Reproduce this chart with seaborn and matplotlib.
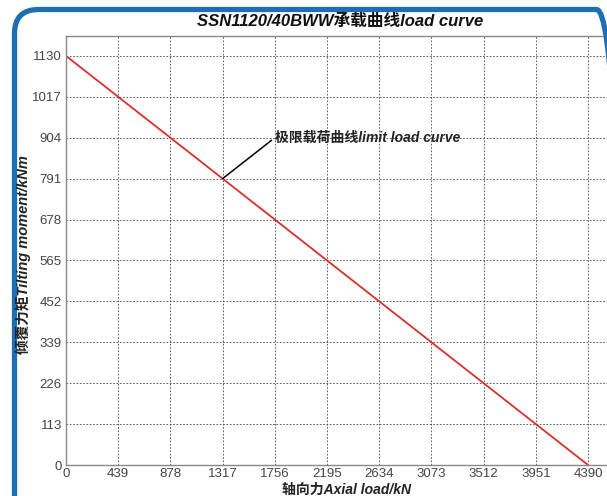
import matplotlib
matplotlib.use("Agg")
import matplotlib.pyplot as plt
from matplotlib.patches import FancyBboxPatch
from matplotlib.transforms import IdentityTransform
import seaborn as sns
import pandas as pd

# 数据
axial_load = [0, 4390]
tilting_moment = [1130, 0]
x_ticks = [0, 439, 878, 1317, 1756, 2195, 2634, 3073, 3512, 3951, 4390]
y_ticks = [0, 113, 226, 339, 452, 565, 678, 791, 904, 1017, 1130]
limit_point = (1317, 791)
label_point = (1756, 904)

sns.set_theme(style="white")
plt.rcParams['font.family'] = ['Liberation Sans', 'Noto Sans CJK SC', 'DejaVu Sans']

df = pd.DataFrame({"x": axial_load, "y": tilting_moment})

W, H = 607, 496
fig = plt.figure(figsize=(W / 100, H / 100), dpi=100)
fig.patch.set_facecolor("white")

# blue rounded frame, in pixels (right side runs off the picture)
frame = FancyBboxPatch((14.5, -60), 606, H - 9.5 + 60,
                       boxstyle="round,pad=0,rounding_size=24",
                       transform=IdentityTransform(), facecolor="none",
                       edgecolor="#1f6db3", linewidth=3.8, clip_on=False)
fig.patches.append(frame)

# axes run past the right edge of the picture, like the cropped original
ax = fig.add_axes([66 / W, 31 / H, 554 / W, 429 / H])
sns.lineplot(data=df, x="x", y="y", ax=ax, color="#d8302c", linewidth=1.3)

ax.set_xlim(0, 4659)
ax.set_ylim(0, 1185)
ax.set_xticks(x_ticks)
ax.set_yticks(y_ticks)
ax.tick_params(axis="both", direction="in", length=3, labelsize=9.5,
               colors="#777777", labelcolor="#444444")
ax.tick_params(axis="x", pad=2)
ax.tick_params(axis="y", pad=3)
ax.grid(True, linestyle=(0, (2, 2)), color="#444444", linewidth=0.6)
for s in ax.spines.values():
    s.set_color("#888888")
    s.set_linewidth(1.0)

ax.set_xlabel("")
ax.set_ylabel("")
fig.text(346 / W, 1 - 489.5 / H, "轴向力Axial load/kN", fontsize=10, fontweight="bold",
         fontstyle="italic", color="#222222", ha="center", va="center")
fig.text(23.5 / W, 1 - 255 / H, "倾覆力矩Tilting moment/kNm", fontsize=10.5,
         fontweight="bold", fontstyle="italic", color="#222222",
         ha="center", va="center", rotation=90)
fig.text(340 / W, 1 - 21 / H, "SSN1120/40BWW承载曲线load curve", fontsize=12,
         fontweight="bold", fontstyle="italic", color="#111111",
         ha="center", va="center")

ax.annotate("极限载荷曲线limit load curve", xy=limit_point, xytext=label_point,
            fontsize=10, fontweight="bold", fontstyle="italic", color="#222222",
            ha="left", va="center",
            arrowprops=dict(arrowstyle="-", color="black", lw=1.1,
                            shrinkA=0, shrinkB=0, relpos=(0, 0.5)))

fig.savefig("out.png", dpi=100)
